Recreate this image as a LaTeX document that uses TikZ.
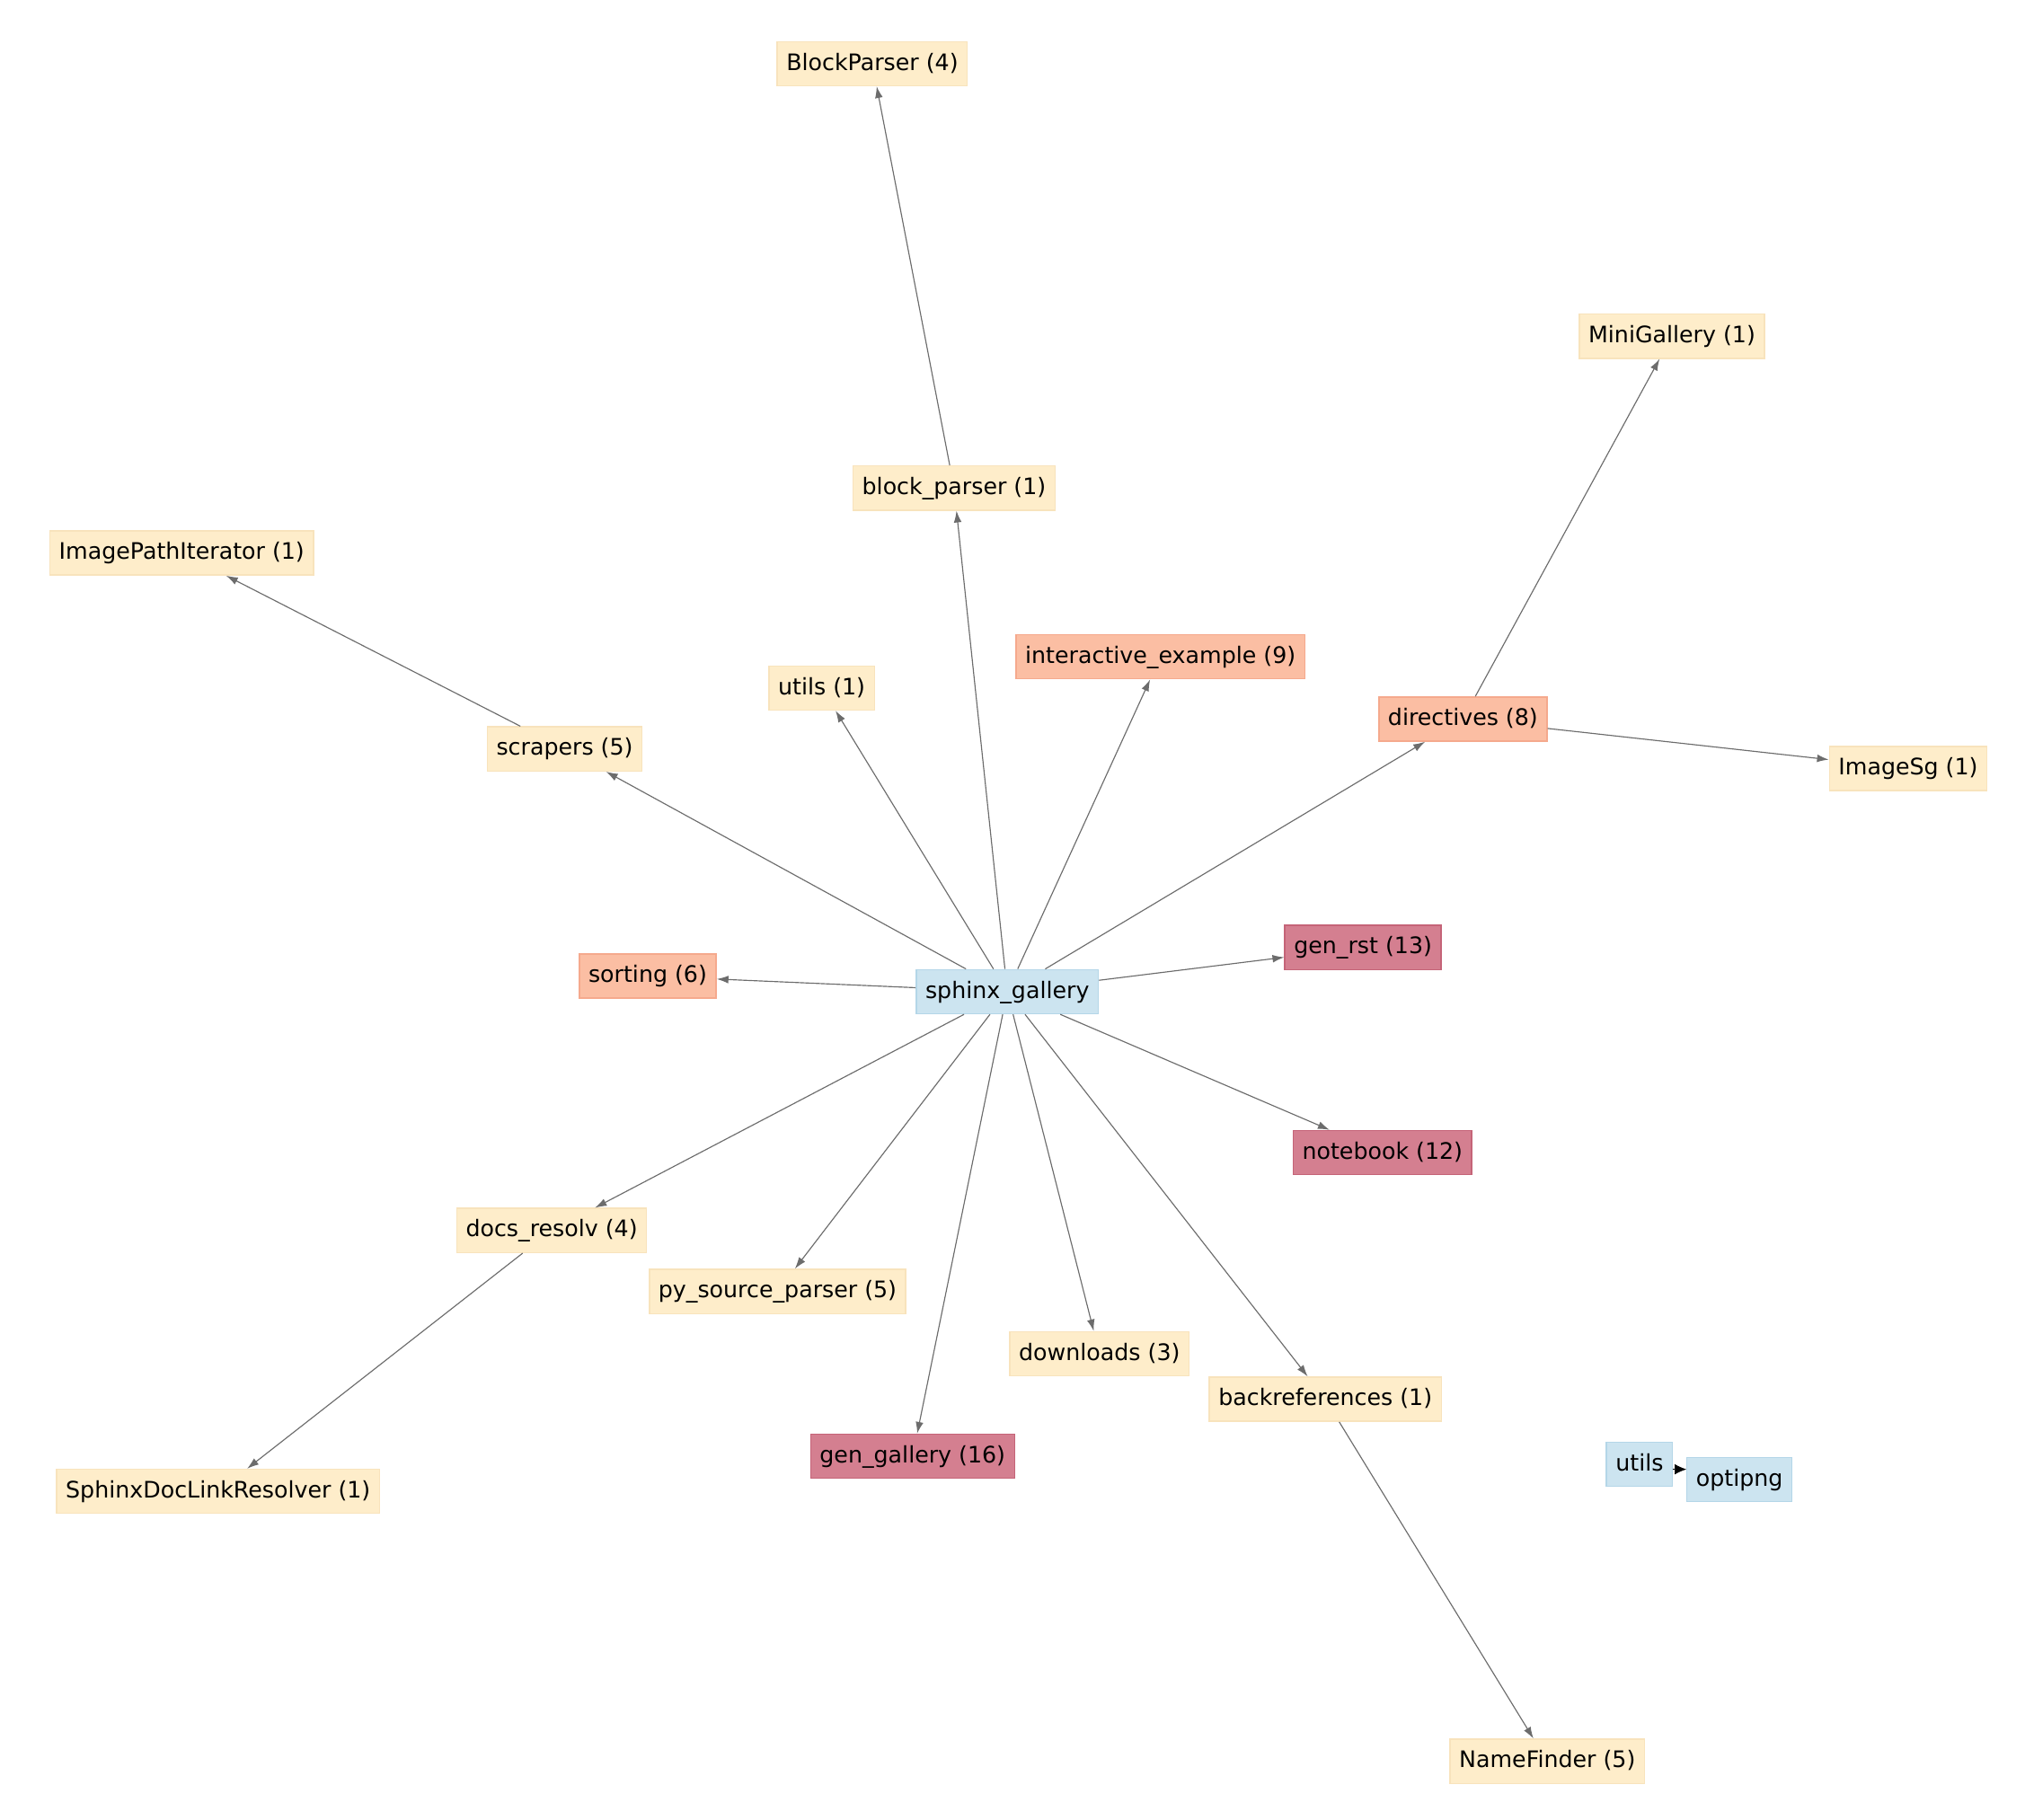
\documentclass[tikz,border=0pt]{standalone}
\usepackage{fontspec}
\setmainfont{DejaVu Sans}
\usetikzlibrary{arrows.meta}
\definecolor{yel}{HTML}{FEEDCA}\definecolor{yelb}{HTML}{F8E3BC}
\definecolor{sal}{HTML}{FBBEA3}\definecolor{salb}{HTML}{F5A98D}
\definecolor{rd}{HTML}{D47F90}\definecolor{rdb}{HTML}{C56478}
\definecolor{bl}{HTML}{CCE4F0}\definecolor{blb}{HTML}{B4D6E8}
\tikzset{
 nd/.style={inner xsep=7pt,minimum height=34pt,font=\fontsize{17.5}{17.5}\selectfont,line width=1pt,text height=13pt,text depth=3pt},
 ny/.style={nd,fill=yel,draw=yelb},
 ns/.style={nd,fill=sal,draw=salb},
 nr/.style={nd,fill=rd,draw=rdb},
 nb/.style={nd,fill=bl,draw=blb},
 ed/.style={draw=gray!85!black,line width=0.8pt,-{Latex[length=9pt,width=6pt]}}
}
\begin{document}
\begin{tikzpicture}[x=1pt,y=-1pt]
\useasboundingbox (0,0) rectangle (1560,1402);
\node[ny] (BP) at (672,49) {BlockParser (4)};
\node[ny] (bp) at (735,376) {block\_parser (1)};
\node[ny] (MG) at (1288,259) {MiniGallery (1)};
\node[ny] (IPI) at (140,426) {ImagePathIterator (1)};
\node[ns] (ie) at (894,506) {interactive\_example (9)};
\node[ny] (u1) at (633,530) {utils (1)};
\node[ns] (dir) at (1127,554) {directives (8)};
\node[ny] (IS) at (1470,592) {ImageSg (1)};
\node[ny] (scr) at (435,577) {scrapers (5)};
\node[ns] (sort) at (499,752) {sorting (6)};
\node[nb] (sg) at (776,764) {sphinx\_gallery};
\node[nr] (gr) at (1050,730) {gen\_rst (13)};
\node[nr] (nbk) at (1065,888) {notebook (12)};
\node[ny] (dr) at (425,948) {docs\_resolv (4)};
\node[ny] (psp) at (599,995) {py\_source\_parser (5)};
\node[ny] (dl) at (847,1043) {downloads (3)};
\node[ny] (br) at (1021,1078) {backreferences (1)};
\node[nr] (gg) at (703,1122) {gen\_gallery (16)};
\node[ny] (SDL) at (168,1149) {SphinxDocLinkResolver (1)};
\node[nb] (ut) at (1263,1128) {utils};
\node[nb] (op) at (1340,1140) {optipng};
\node[ny] (NF) at (1192,1357) {NameFinder (5)};
\foreach \t in {bp,ie,u1,dir,scr,sort,gr,nbk,dr,psp,dl,br,gg} \draw[ed] (sg) -- (\t);
\draw[ed] (bp) -- (BP);
\draw[ed] (dir) -- (MG);
\draw[ed] (dir) -- (IS);
\draw[ed] (scr) -- (IPI);
\draw[ed] (dr) -- (SDL);
\draw[ed] (br) -- (NF);
\coordinate (ua) at ([yshift=-4pt]ut.east);
\draw[-{Latex[length=9pt,width=8pt]},black] (ua) -- (ua -| op.west);
\end{tikzpicture}
\end{document}
